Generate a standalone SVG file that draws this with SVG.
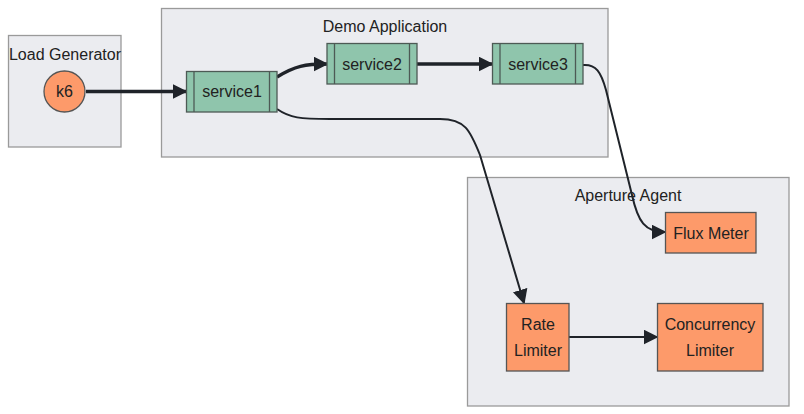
<svg xmlns="http://www.w3.org/2000/svg" width="804" height="414" viewBox="0 0 804 414">
<defs>
<style>
.cluster{fill:#ebecf0;stroke:#9a9a9a;stroke-width:1.3}
.ctitle{font-family:"Liberation Sans",Arial,sans-serif;font-size:16px;fill:#222;text-anchor:middle}
.lbl{font-family:"Liberation Sans",Arial,sans-serif;font-size:16px;fill:#222;text-anchor:middle}
.svc{fill:#8fc5ac;stroke:#4d5a55;stroke-width:1.3}
.org{fill:#fd9a6a;stroke:#555;stroke-width:1.3}
.thick{fill:none;stroke:#1f2329;stroke-width:3.5}
.thin{fill:none;stroke:#1f2329;stroke-width:2}
</style>
<marker id="ah" viewBox="0 0 10 10" refX="9" refY="5" markerWidth="15" markerHeight="15" markerUnits="userSpaceOnUse" orient="auto">
<path d="M0,0 L10,5 L0,10 z" fill="#1f2329"/>
</marker>
</defs>
<rect width="804" height="414" fill="#ffffff"/>
<g id="cluster-load">
<rect class="cluster" x="8.5" y="35.5" width="112.5" height="111.5"/>
<text class="ctitle" x="65" y="60">Load Generator</text>
</g>
<g id="cluster-demo">
<rect class="cluster" x="161.5" y="8.5" width="446.5" height="148.5"/>
<text class="ctitle" x="385" y="32">Demo Application</text>
</g>
<g id="cluster-agent">
<rect class="cluster" x="467.5" y="177.5" width="321.5" height="228.5"/>
<text class="ctitle" x="628" y="201">Aperture Agent</text>
</g>
<g id="edges">
<path class="thick" d="M86,91.5 L186,91.5" marker-end="url(#ah)"/>
<path class="thick" d="M277,77 C295,66 305,64 327,64" marker-end="url(#ah)"/>
<path class="thick" d="M417,64 L492,64" marker-end="url(#ah)"/>
<path class="thin" d="M277,109 C290,118 300,119 330,119 L440,119 C465,119 470,130 480,155 L524,303" marker-end="url(#ah)"/>
<path class="thin" d="M583,65 C596,64 601,72 606,90 L632,195 C638,222 645,232 665,232" marker-end="url(#ah)"/>
<path class="thin" d="M569,337 L657,337" marker-end="url(#ah)"/>
</g>
<g id="node-k6">
<circle class="org" cx="64.5" cy="91.5" r="20.5"/>
<text class="lbl" x="64.5" y="97">k6</text>
</g>
<g id="node-service1">
<rect class="svc" x="186.5" y="71.5" width="90.5" height="40.5"/>
<line x1="194" y1="71.5" x2="194" y2="112" stroke="#4d5a55" stroke-width="1.3"/>
<line x1="269.5" y1="71.5" x2="269.5" y2="112" stroke="#4d5a55" stroke-width="1.3"/>
<text class="lbl" x="232" y="97">service1</text>
</g>
<g id="node-service2">
<rect class="svc" x="327" y="43.5" width="90" height="40.5"/>
<line x1="334.5" y1="43.5" x2="334.5" y2="84" stroke="#4d5a55" stroke-width="1.3"/>
<line x1="409.5" y1="43.5" x2="409.5" y2="84" stroke="#4d5a55" stroke-width="1.3"/>
<text class="lbl" x="372" y="69.5">service2</text>
</g>
<g id="node-service3">
<rect class="svc" x="492.5" y="43.5" width="90.5" height="40.5"/>
<line x1="500" y1="43.5" x2="500" y2="84" stroke="#4d5a55" stroke-width="1.3"/>
<line x1="575.5" y1="43.5" x2="575.5" y2="84" stroke="#4d5a55" stroke-width="1.3"/>
<text class="lbl" x="538" y="69.5">service3</text>
</g>
<g id="node-flux">
<rect class="org" x="665.5" y="212.5" width="90.5" height="40.5"/>
<text class="lbl" x="711" y="239">Flux Meter</text>
</g>
<g id="node-rate">
<rect class="org" x="506.5" y="303.5" width="62.5" height="67.5"/>
<text class="lbl" x="538" y="330">Rate</text>
<text class="lbl" x="538" y="356">Limiter</text>
</g>
<g id="node-conc">
<rect class="org" x="657.5" y="303.5" width="105.5" height="67.5"/>
<text class="lbl" x="710" y="330">Concurrency</text>
<text class="lbl" x="710" y="356">Limiter</text>
</g>
</svg>
